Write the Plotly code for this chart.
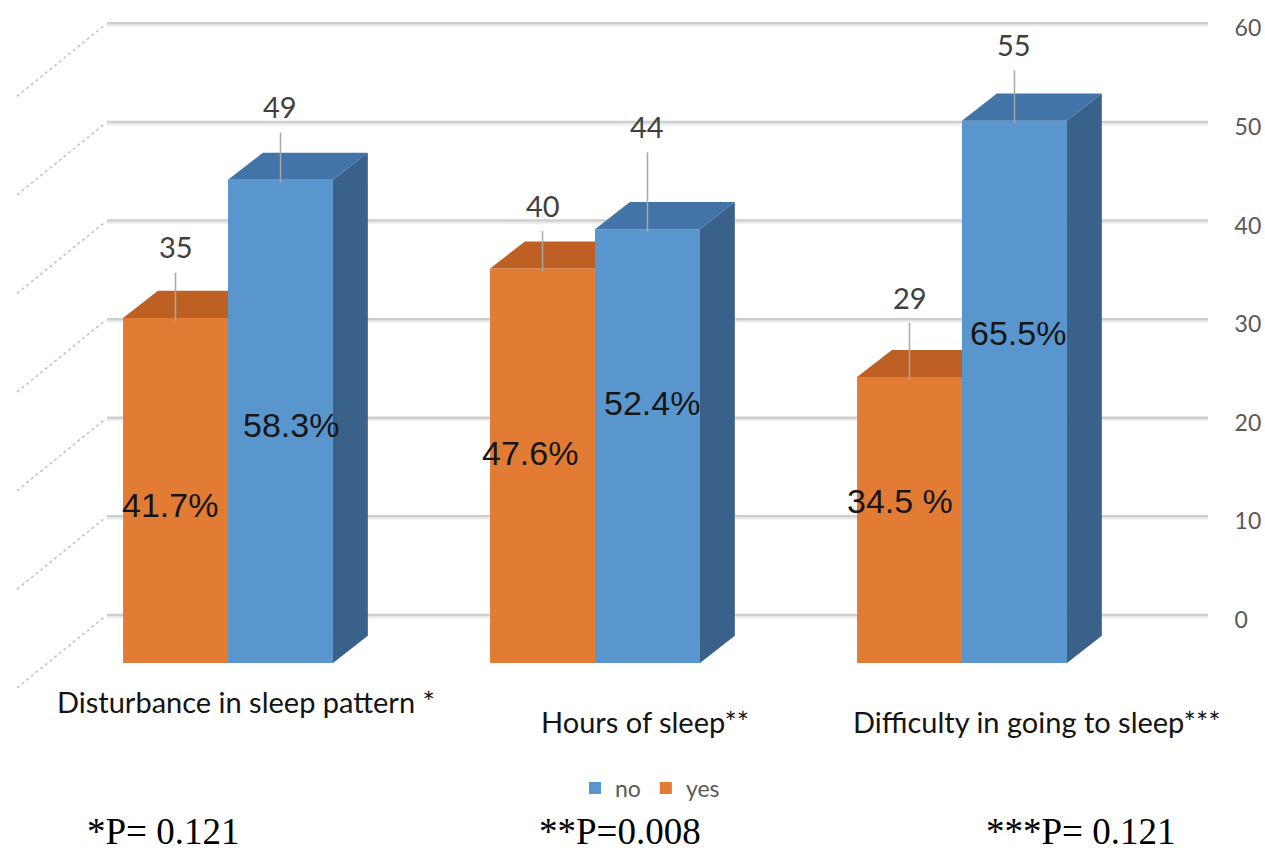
import plotly.graph_objects as go

# ---- data -------------------------------------------------------------
categories = ["Disturbance in sleep pattern *", "Hours of sleep**",
              "Difficulty in going to sleep***"]
yes_counts = [35, 40, 29]
no_counts = [49, 44, 55]
yes_pct = ["41.7%", "47.6%", "34.5 %"]
no_pct = ["58.3%", "52.4%", "65.5%"]
p_values = ["*P= 0.121", "**P=0.008", "***P= 0.121"]
y_ticks = [0, 10, 20, 30, 40, 50, 60]

# ---- geometry / style constants ----------------------------------------
W = 0.286            # bar width (category units)
DX, DY = 0.095, 2.75  # depth of the 3D bar faces (x units, value units)
WALL_DY = 4.87       # back wall sits higher than the bar floor (value units)
WALL_X = -0.330      # left edge of the back wall
WALL_SLANT_X, WALL_SLANT_Y = 0.245, 7.4
X_RANGE = [-0.6213, 2.6703]
Y_RANGE = [-19.07, 67.24]

ORANGE = "#E27C35"
ORANGE_TOP = "#BE6024"
BLUE = "#5A96CE"
BLUE_TOP = "#4374A8"
BLUE_SIDE = "#3A6189"

# label placement (offsets in value units / category units)
yes_lbl_off = [7.2, 6.4, 8.1]
no_lbl_off = [7.4, 10.4, 7.7]
yes_pct_pos = [(-0.158, 16.0), (-0.177, 21.3), (-0.170, 16.4)]
no_pct_pos = [(0.172, 24.1), (0.155, 26.4), (0.153, 33.5)]
cat_lbl_pos = [(0.049, -3.9), (1.136, -5.9), (2.204, -5.9)]
p_lbl_x = [171, 649, 1131]

fig = go.Figure()

# front faces of the bars
fig.add_trace(go.Bar(x=[0, 1, 2], y=no_counts, width=W, offset=0, name="no",
                     marker=dict(color=BLUE, line=dict(width=0)), hoverinfo="skip"))
fig.add_trace(go.Bar(x=[0, 1, 2], y=yes_counts, width=W, offset=-W, name="yes",
                     marker=dict(color=ORANGE, line=dict(width=0)), hoverinfo="skip"))


def poly(xs, ys, color):
    fig.add_trace(go.Scatter(x=xs + [xs[0]], y=ys + [ys[0]], mode="lines",
                             fill="toself", fillcolor=color,
                             line=dict(width=0, color=color),
                             showlegend=False, hoverinfo="skip"))


for i in range(len(categories)):
    # orange top face, cut where the blue bar covers it
    v = yes_counts[i]
    x0, x1 = i - W, i
    poly([x0, x1, x1, x0 + DX], [v, v, v + DY, v + DY], ORANGE_TOP)
    # blue top and side faces
    v = no_counts[i]
    x0, x1 = i, i + W
    poly([x0, x1, x1 + DX, x0 + DX], [v, v, v + DY, v + DY], BLUE_TOP)
    poly([x1, x1, x1 + DX, x1 + DX], [0, v, v + DY, DY], BLUE_SIDE)

# back wall and side wall grid lines
shapes = []
for t in y_ticks:
    shapes.append(dict(type="line", xref="x", yref="y2", x0=WALL_X, x1=X_RANGE[1],
                       y0=t - 0.22, y1=t - 0.22, layer="below",
                       line=dict(color="#ebebeb", width=2)))
    shapes.append(dict(type="line", xref="x", yref="y2", x0=WALL_X, x1=X_RANGE[1],
                       y0=t, y1=t, layer="below",
                       line=dict(color="#cfcfcf", width=2.5)))
    shapes.append(dict(type="line", xref="x", yref="y2", x0=WALL_X - 0.01, y0=t - 0.3,
                       x1=WALL_X - WALL_SLANT_X, y1=t - WALL_SLANT_Y, layer="below",
                       line=dict(color="#c4c4c4", width=1.6, dash="dot")))

annotations = []
label_font = dict(family="Lato", size=29, color="#404040")
for i in range(len(categories)):
    for cnt, off, dxc in ((yes_counts[i], yes_lbl_off[i], -W / 2),
                          (no_counts[i], no_lbl_off[i], W / 2)):
        xc = i + dxc
        # leader line from the bar top to the label
        shapes.append(dict(type="line", xref="x", yref="y", x0=xc, x1=xc,
                           y0=cnt - 0.3, y1=cnt + off - 2.6, layer="above",
                           line=dict(color="#a8a8a8", width=1.5)))
        annotations.append(dict(x=xc, y=cnt + off, xref="x", yref="y", text=str(cnt),
                                showarrow=False, font=label_font,
                                xanchor="center", yanchor="middle"))
    # percentage labels on the bars
    for txt, (rx, ry) in ((yes_pct[i], yes_pct_pos[i]), (no_pct[i], no_pct_pos[i])):
        annotations.append(dict(x=i + rx, y=ry, xref="x", yref="y", text=txt,
                                showarrow=False,
                                font=dict(family="Liberation Sans", size=34, color="#161616"),
                                xanchor="center", yanchor="middle"))
    # category labels
    cx, cy = cat_lbl_pos[i]
    annotations.append(dict(x=cx, y=cy, xref="x", yref="y", text=categories[i],
                            showarrow=False,
                            font=dict(family="Lato", size=29, color="#141414"),
                            xanchor="center", yanchor="middle"))
    # p-value notes
    annotations.append(dict(x=p_lbl_x[i] / 1265, y=1 - 831 / 851, xref="paper", yref="paper",
                            text=p_values[i], showarrow=False,
                            font=dict(family="Liberation Serif", size=37, color="#000000"),
                            xanchor="center", yanchor="middle"))

fig.update_layout(
    width=1265, height=851,
    margin=dict(l=0, r=57, t=0, b=0),
    paper_bgcolor="white", plot_bgcolor="white",
    barmode="overlay",
    shapes=shapes, annotations=annotations,
    showlegend=True,
    legend=dict(orientation="h", x=650 / 1208, xanchor="center",
                y=1 - 788 / 851, yanchor="middle",
                font=dict(family="Lato", size=23, color="#595959"),
                itemwidth=30, tracegroupgap=0, bgcolor="rgba(0,0,0,0)"),
    xaxis=dict(range=X_RANGE, showgrid=False, zeroline=False, showline=False,
               showticklabels=False, fixedrange=True),
    yaxis=dict(range=Y_RANGE, showgrid=False, zeroline=False, showline=False,
               showticklabels=False, fixedrange=True),
    yaxis2=dict(range=[Y_RANGE[0] - WALL_DY, Y_RANGE[1] - WALL_DY], overlaying="y",
                side="right", anchor="x", tickvals=y_ticks, showgrid=False,
                zeroline=False, showline=False,
                ticks="outside", ticklen=21, tickcolor="rgba(0,0,0,0)",
                ticklabelshift=5,
                tickfont=dict(family="Lato", size=23, color="#595959"),
                fixedrange=True),
)

# an invisible trace ties the right-hand axis to the plot
fig.add_trace(go.Scatter(x=[X_RANGE[0]], y=[0], yaxis="y2", mode="markers",
                         marker=dict(opacity=0), showlegend=False, hoverinfo="skip"))

fig.write_html("out.html", config={"displayModeBar": False})
